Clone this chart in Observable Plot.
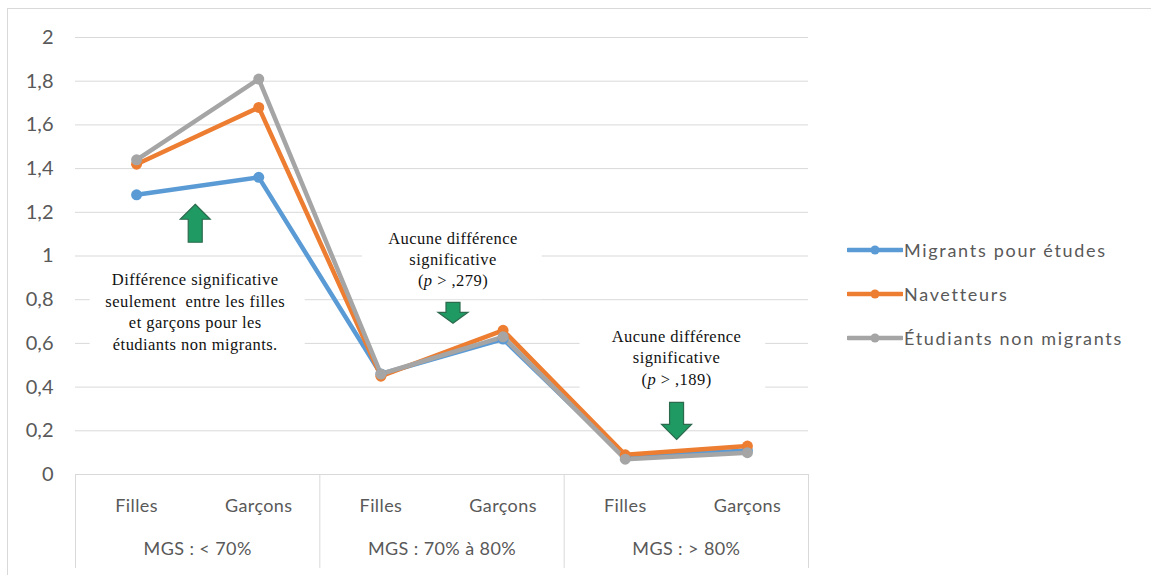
<!DOCTYPE html>
<html>
<head>
<meta charset="utf-8">
<script src="https://cdn.jsdelivr.net/npm/d3@7"></script>
<script src="https://cdn.jsdelivr.net/npm/@observablehq/plot@0.6"></script>
<style>
  html, body { margin: 0; padding: 0; background: #fff; }
  #wrap { position: relative; width: 1151px; height: 575px; overflow: hidden; }
  #border { position: absolute; left: 7px; top: 8px; right: 0; bottom: 0;
            border-left: 1px solid #d9d9d9; border-top: 1px solid #d9d9d9; pointer-events: none; }
  #legend { position: absolute; left: 847px; top: 228px; font-family: Lato, "Open Sans", sans-serif;
            font-size: 18px; letter-spacing: 1.7px; color: #595959; }
  .row { display: flex; align-items: center; height: 44px; }
  .row svg { margin-right: 1px; }
  #chart g[font-family*="Liberation Serif"] text { letter-spacing: 0.45px; }
  #chart g.xlab text { letter-spacing: 0.4px; }
</style>
</head>
<body>
<div id="wrap">
  <div id="chart"></div>
  <div id="legend"></div>
  <div id="border"></div>
</div>
<script>
// ---- data ----
const categories = ["Filles", "Garçons", "Filles", "Garçons", "Filles", "Garçons"];
const groups = ["MGS : < 70%", "MGS : 70% à 80%", "MGS : > 80%"];
const series = ["Migrants pour études", "Navetteurs", "Étudiants non migrants"];
const colors = ["#5b9bd5", "#ed7d31", "#a5a5a5"];
const migrants = [1.28, 1.36, 0.46, 0.62, 0.08, 0.11];
const navetteurs = [1.42, 1.68, 0.45, 0.66, 0.09, 0.13];
const nonMigrants = [1.44, 1.81, 0.46, 0.63, 0.07, 0.10];
const yTicks = [0, 0.2, 0.4, 0.6, 0.8, 1, 1.2, 1.4, 1.6, 1.8, 2];

// annotations (x in category-index units, y in value units)
const noteTexts = [
  "Différence significative\nseulement  entre les filles\net garçons pour les\nétudiants non migrants.",
  "Aucune différence\nsignificative\n(p > ,279)",
  "Aucune différence\nsignificative\n(p > ,189)"
];
const noteX = [0.48, 2.59, 4.42];
const noteY = [0.75, 0.99, 0.54];
const boxX1 = [-0.38, 1.85, 3.63];
const boxX2 = [1.38, 3.32, 5.15];
const boxY1 = [0.52, 0.80, 0.35];
const boxY2 = [0.985, 1.15, 0.71];
const arrowX = [0.48, 2.59, 4.42];
const arrowY = [1.15, 0.74, 0.245];
const arrowDir = ["up", "down", "down"];
const arrowLen = [38, 21, 37];
const arrowHead = [15, 11, 15];

// ---- build tables ----
const valuesBySeries = [migrants, navetteurs, nonMigrants];
const table = series.flatMap((s, k) => valuesBySeries[k].map((v, i) => ({series: s, i, value: v})));
const notes = noteTexts.map((t, k) => ({text: t, x: noteX[k], y: noteY[k], x1: boxX1[k], x2: boxX2[k], y1: boxY1[k], y2: boxY2[k]}));
const fmt = d => String(d).replace(".", ",");
const separators = d3.range(groups.length + 1).map(g => g * 2 - 0.5);

function arrowSymbol(len, head, dir) {
  const sw = 14, hw = 30, s = dir === "up" ? 1 : -1;
  return {
    draw(ctx) {
      const t = -s * len / 2, hb = t + s * head, b = s * len / 2;
      ctx.moveTo(0, t);
      ctx.lineTo(hw / 2, hb);
      ctx.lineTo(sw / 2, hb);
      ctx.lineTo(sw / 2, b);
      ctx.lineTo(-sw / 2, b);
      ctx.lineTo(-sw / 2, hb);
      ctx.lineTo(-hw / 2, hb);
      ctx.closePath();
    }
  };
}
const arrowMarks = arrowX.map((x, k) =>
  Plot.dot([{x, y: arrowY[k]}], {x: "x", y: "y", r: 10, symbol: arrowSymbol(arrowLen[k], arrowHead[k], arrowDir[k]),
    fill: "#1f9a62", stroke: "#2c6a4e", strokeWidth: 1.2})
);

const chart = Plot.plot({
  width: 1151,
  height: 575,
  marginLeft: 75,
  marginRight: 343,
  marginTop: 37,
  marginBottom: 101,
  style: {fontFamily: "Lato, 'Open Sans', sans-serif", fontSize: "18px", color: "#595959", background: "transparent", overflow: "visible"},
  x: {type: "linear", domain: [-0.5, 5.5], axis: null},
  y: {domain: [0, 2], axis: null},
  color: {domain: series, range: colors},
  marks: [
    Plot.ruleY(yTicks, {stroke: "#d9d9d9", strokeWidth: 1}),
    Plot.ruleX(separators, {y1: 0, y2: -0.43, stroke: "#d9d9d9", strokeWidth: 1}),
    Plot.axisY(yTicks, {tickSize: 0, tickPadding: 22, tickFormat: fmt, fontSize: 20, fill: "#595959"}),
    Plot.text(categories, {x: (d, i) => i, y: () => 0, text: d => d, dy: 32, fontSize: 18, fill: "#595959", className: "xlab"}),
    Plot.text(groups, {x: (d, i) => i * 2 + 0.5, y: () => 0, text: d => d, dy: 75, fontSize: 18, fill: "#595959", className: "xlab"}),
    Plot.rect(notes, {x1: "x1", x2: "x2", y1: "y1", y2: "y2", fill: "white"}),
    Plot.text(notes, {x: "x", y: "y", text: "text", lineAnchor: "middle", lineHeight: 1.3,
      fontFamily: "'Liberation Serif', 'DejaVu Serif', serif", fontSize: 16.5, fill: "#111"}),
    ...arrowMarks,
    Plot.line(table, {x: "i", y: "value", z: "series", stroke: "series", strokeWidth: 4.5, strokeLinejoin: "round", strokeLinecap: "round"}),
    Plot.dot(table, {x: "i", y: "value", fill: "series", r: 5.5})
  ]
});
document.getElementById("chart").appendChild(chart);

// italic p in annotations
chart.querySelectorAll("tspan, text").forEach(el => {
  if (el.children.length === 0 && el.textContent.startsWith("(p")) {
    el.innerHTML = el.textContent.replace("p", '<tspan font-style="italic">p</tspan>');
  }
});

// legend
const legend = document.getElementById("legend");
series.forEach((s, k) => {
  const row = document.createElement("div");
  row.className = "row";
  row.innerHTML = `<svg width="56" height="12"><line x1="1" x2="55" y1="6" y2="6" stroke="${colors[k]}" stroke-width="4.5" stroke-linecap="round"/><circle cx="28" cy="6" r="4.5" fill="${colors[k]}"/></svg><span>${s}</span>`;
  legend.appendChild(row);
});
</script>
</body>
</html>
